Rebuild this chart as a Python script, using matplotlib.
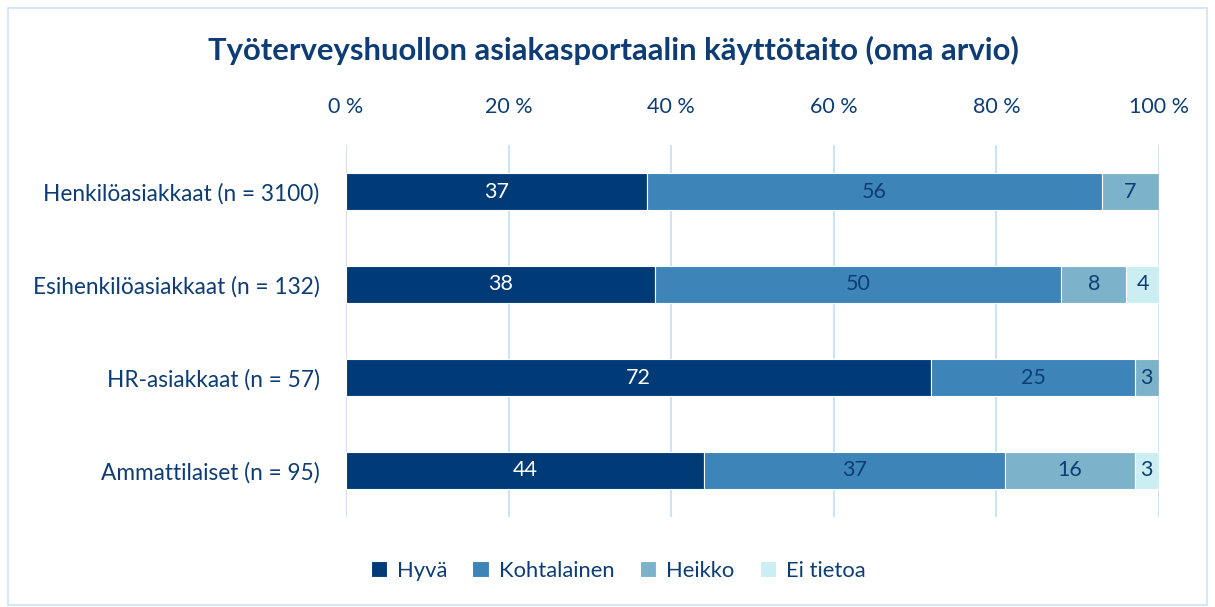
import matplotlib
matplotlib.use("Agg")
import matplotlib.pyplot as plt
from matplotlib.patches import Rectangle
import numpy as np

plt.rcParams['font.family'] = ['Lato', 'DejaVu Sans']

categories = ["Henkilöasiakkaat (n = 3100)", "Esihenkilöasiakkaat (n = 132)",
              "HR-asiakkaat (n = 57)", "Ammattilaiset (n = 95)"]
series_names = ["Hyvä", "Kohtalainen", "Heikko", "Ei tietoa"]
hyva = [37, 38, 72, 44]
kohtalainen = [56, 50, 25, 37]
heikko = [7, 8, 3, 16]
ei_tietoa = [0, 4, 0, 3]
xticks = [0, 20, 40, 60, 80, 100]
xtick_labels = ["0 %", "20 %", "40 %", "60 %", "80 %", "100 %"]

colors = ["#003b78", "#3d84b8", "#7db3ca", "#cbeef2"]
label_colors = ["white", "#0d3d74", "#0d3d74", "#0d3d74"]
text_color = "#0d3d74"

fig = plt.figure(figsize=(12.15, 6.07), dpi=100)
W, H = 1215, 607
ax = fig.add_axes([346 / W, 1 - 517 / H, (1159 - 346) / W, (517 - 145) / H])

fig.patches.append(Rectangle((8 / W, 2 / H), (1207 - 8) / W, (599 - 2) / H,
                             transform=fig.transFigure, fill=False,
                             edgecolor="#cfe3f7", linewidth=1.2))

y = np.arange(len(categories))
left = np.zeros(len(categories))
all_series = [hyva, kohtalainen, heikko, ei_tietoa]
for name, vals, c, lc in zip(series_names, all_series, colors, label_colors):
    vals = np.array(vals, dtype=float)
    ax.barh(y, vals, left=left, height=0.4, color=c, label=name,
            edgecolor="white", linewidth=0.8, zorder=3)
    for yi, l, v in zip(y, left, vals):
        if v > 0:
            ax.text(l + v / 2, yi, f"{int(v)}", ha="center", va="center",
                    color=lc, fontsize=15.5, zorder=4)
    left += vals

ax.set_xlim(0, 100)
ax.set_ylim(3.5, -0.5)
ax.set_yticks(y)
ax.set_yticklabels(categories, fontsize=16.3, color=text_color)
ax.set_xticks(xticks)
ax.set_xticklabels(xtick_labels, fontsize=15.5, color=text_color)
ax.xaxis.tick_top()
ax.tick_params(axis="x", length=0, pad=20)
ax.tick_params(axis="y", length=0, pad=19)
ax.grid(axis="x", color="#cfe3f7", linewidth=1.5, zorder=0)
for s in ax.spines.values():
    s.set_visible(False)

fig.text(613 / W, 1 - 50 / H, "Työterveyshuollon asiakasportaalin käyttötaito (oma arvio)",
         ha="center", va="center", fontsize=22.3, fontweight="bold", color=text_color)

leg = fig.legend(loc="center", bbox_to_anchor=(618 / W, 1 - 571 / H), ncol=4,
                 frameon=False, fontsize=15.8, handlelength=0.75, handleheight=0.75,
                 handletextpad=0.45, columnspacing=1.15)
for t in leg.get_texts():
    t.set_color(text_color)

fig.savefig("out.png", dpi=100, facecolor="white")
